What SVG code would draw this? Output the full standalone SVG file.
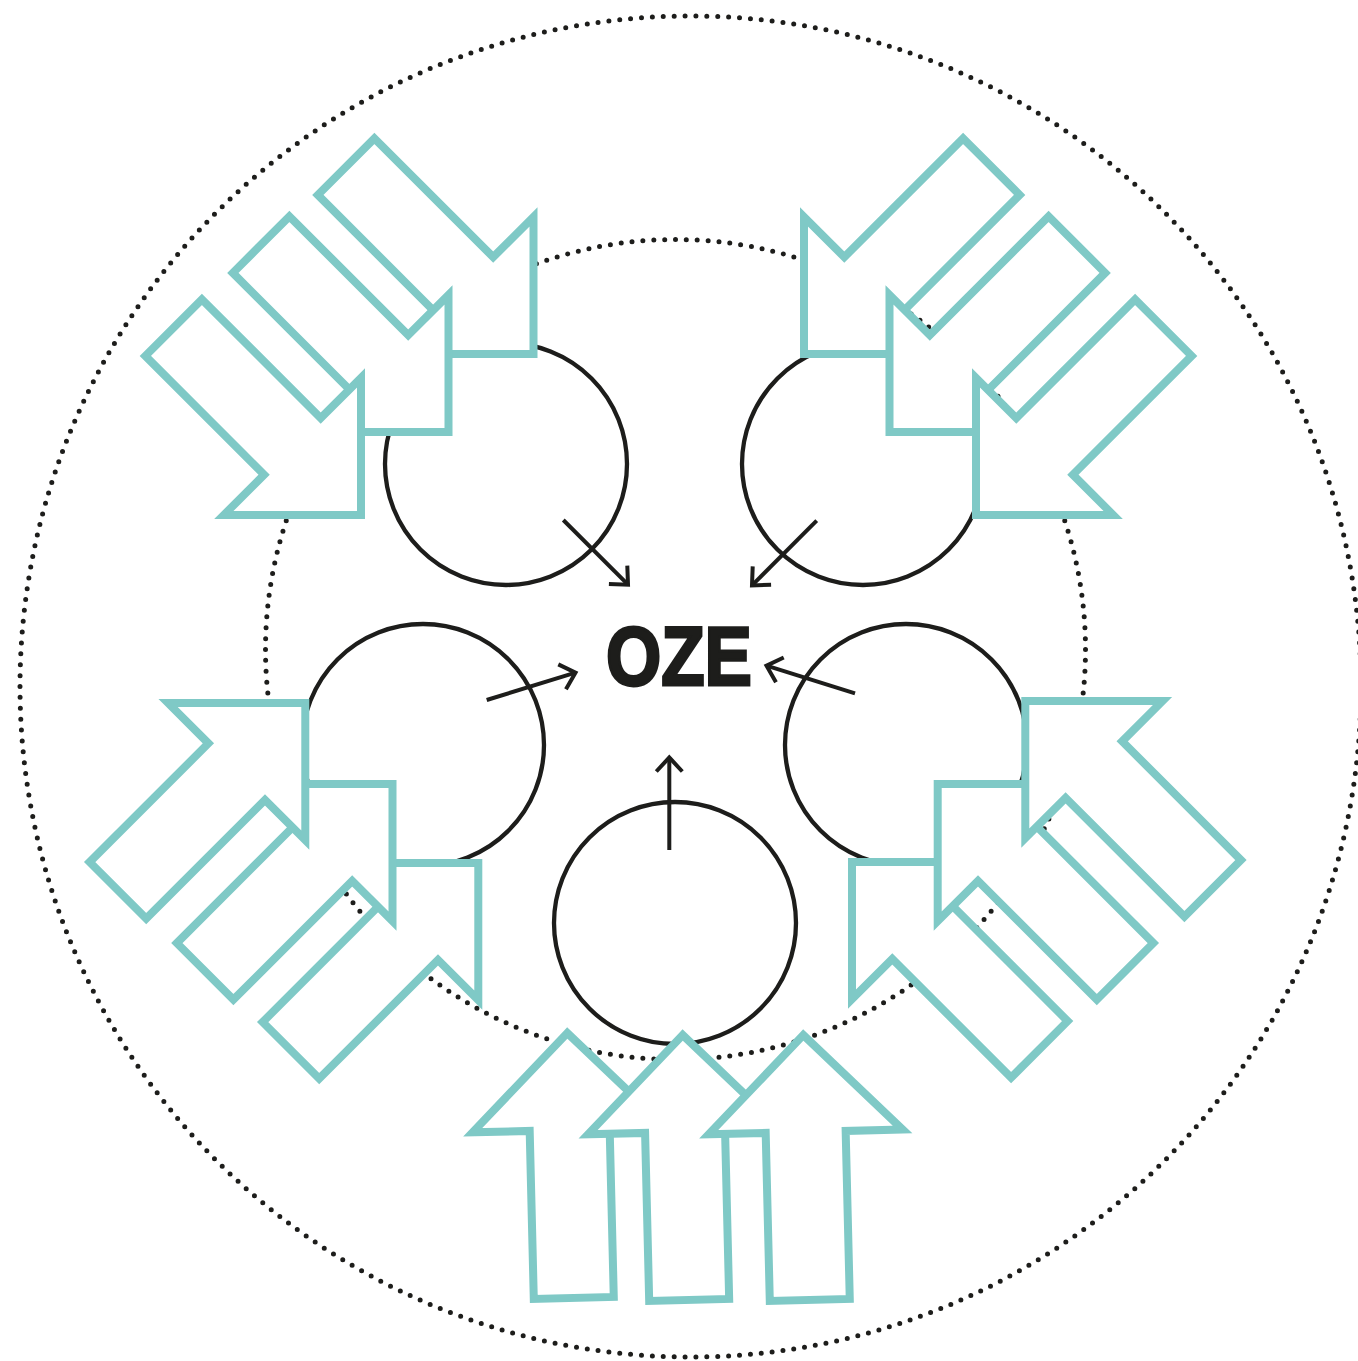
<svg xmlns="http://www.w3.org/2000/svg" xmlns:xlink="http://www.w3.org/1999/xlink" width="1358" height="1361" viewBox="0 0 1358 1361">
  <style>
    .dots { fill: none; stroke: #1d1d1b; stroke-width: 5; stroke-linecap: round; stroke-dasharray: 0 1; }
    .ring { fill: none; stroke: #1d1d1b; stroke-width: 4.3; }
    .big { fill: #ffffff; stroke: #7fc9c6; stroke-width: 8; stroke-linejoin: miter; stroke-miterlimit: 10; }
    .con { fill: none; stroke: #1d1d1b; stroke-width: 4; }
    .label { font-family: "Liberation Sans", Arial, sans-serif; font-weight: bold; font-size: 84px; fill: #1d1d1b; stroke: #1d1d1b; stroke-width: 3; stroke-linejoin: miter; }
  </style>
  <defs>
    <path id="blockArrow" d="M0,0 L-97,-97 L-97,-40 L-265,-40 L-265,40 L-97,40 L-97,97 Z"/>
    <marker id="chev" markerUnits="userSpaceOnUse" markerWidth="40" markerHeight="40" refX="0" refY="0" orient="auto" viewBox="-30 -20 40 40" overflow="visible">
      <path d="M-14,-13 L0,0 L-14,13" fill="none" stroke="#1d1d1b" stroke-width="4" stroke-linejoin="miter"/>
    </marker>
  </defs>
  <rect width="1358" height="1361" fill="#ffffff"/>

  <g id="outer-ring">
    <circle class="dots" cx="690.5" cy="686.5" r="670.5" pathLength="386"/>
  </g>
  <g id="inner-ring">
    <circle class="dots" cx="675.5" cy="649.5" r="410" pathLength="236"/>
  </g>

  <g id="circle-top-left"><circle class="ring" cx="506" cy="464" r="121"/></g>
  <g id="circle-top-right"><circle class="ring" cx="863" cy="464" r="121"/></g>
  <g id="circle-left"><circle class="ring" cx="423" cy="745" r="121"/></g>
  <g id="circle-right"><circle class="ring" cx="906" cy="745" r="121"/></g>
  <g id="circle-bottom"><circle class="ring" cx="675" cy="923" r="121"/></g>

  <g id="arrows-top-left">
    <use class="big" xlink:href="#blockArrow" transform="translate(533.5,354) rotate(45)"/>
    <use class="big" xlink:href="#blockArrow" transform="translate(448.5,432) rotate(45)"/>
    <use class="big" xlink:href="#blockArrow" transform="translate(361,515) rotate(45)"/>
  </g>
  <g id="arrows-top-right">
    <use class="big" xlink:href="#blockArrow" transform="translate(804,354) rotate(135)"/>
    <use class="big" xlink:href="#blockArrow" transform="translate(889.5,432) rotate(135)"/>
    <use class="big" xlink:href="#blockArrow" transform="translate(976,515) rotate(135)"/>
  </g>
  <g id="arrows-bottom-left">
    <use class="big" xlink:href="#blockArrow" transform="translate(478.3,863) rotate(-45)"/>
    <use class="big" xlink:href="#blockArrow" transform="translate(392.5,784) rotate(-45)"/>
    <use class="big" xlink:href="#blockArrow" transform="translate(305.3,703) rotate(-45)"/>
  </g>
  <g id="arrows-bottom-right">
    <use class="big" xlink:href="#blockArrow" transform="translate(852,862) rotate(-135)"/>
    <use class="big" xlink:href="#blockArrow" transform="translate(937.7,784) rotate(-135)"/>
    <use class="big" xlink:href="#blockArrow" transform="translate(1025.3,701) rotate(-135)"/>
  </g>
  <g id="arrows-bottom">
    <use class="big" xlink:href="#blockArrow" transform="translate(567.3,1033) rotate(-91.4)"/>
    <use class="big" xlink:href="#blockArrow" transform="translate(682.7,1035) rotate(-91.4)"/>
    <use class="big" xlink:href="#blockArrow" transform="translate(803.3,1035) rotate(-91.4)"/>
  </g>

  <g id="connectors">
    <line class="con" x1="563.3" y1="520" x2="628" y2="584.7" marker-end="url(#chev)"/>
    <line class="con" x1="816.7" y1="520.7" x2="752" y2="585.4" marker-end="url(#chev)"/>
    <line class="con" x1="486.7" y1="700" x2="575.5" y2="672.7" marker-end="url(#chev)"/>
    <line class="con" x1="855" y1="693.3" x2="766.5" y2="665.7" marker-end="url(#chev)"/>
    <line class="con" x1="669.3" y1="850" x2="669.3" y2="757.5" marker-end="url(#chev)"/>
  </g>

  <g id="oze">
    <text class="label" x="606" y="684.5" textLength="146" lengthAdjust="spacingAndGlyphs">OZE</text>
  </g>
</svg>
